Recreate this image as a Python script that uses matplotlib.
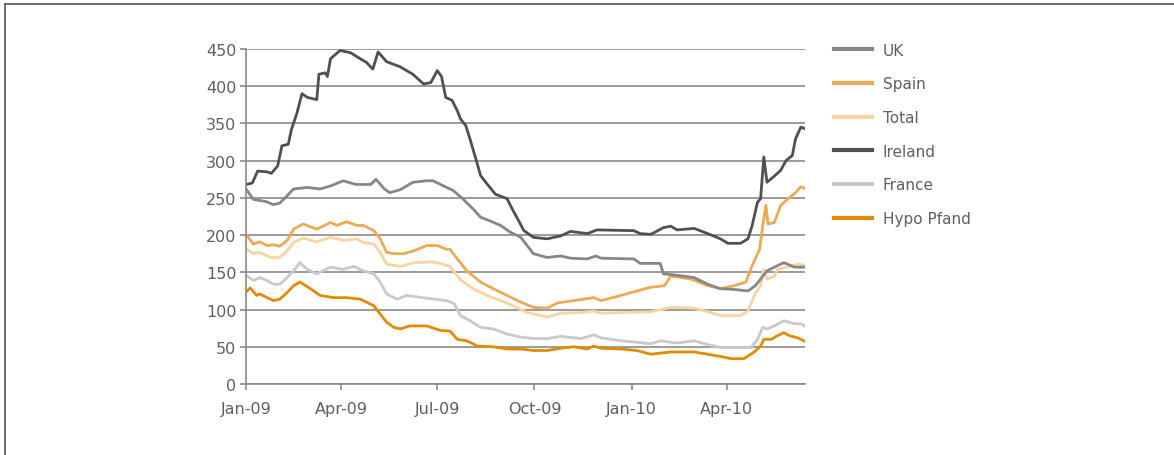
import pandas as pd
import matplotlib
matplotlib.use("Agg")
import matplotlib.pyplot as plt
import matplotlib.dates as mdates
from matplotlib.lines import Line2D

# values: (days since 1 Jan 2009, value)
uk_days = [0, 7, 19, 26, 32, 39, 45, 58, 70, 80, 92, 104, 118, 123, 131, 136, 146, 158, 171,
           177, 187, 196, 205, 215, 222, 231, 241, 250, 260, 266, 272, 285, 298, 307, 323, 331,
           336, 367, 373, 392, 395, 408, 424, 437, 449, 462, 475, 482, 488, 493, 503, 509, 519, 531]
uk_vals = [262, 248, 245, 241, 243, 253, 262, 264, 262, 266, 273, 268, 268, 275, 262, 257, 261, 271, 273,
           273, 266, 260, 249, 235, 224, 219, 213, 204, 197, 186, 175, 170, 172, 169, 168, 172,
           169, 168, 162, 162, 148, 146, 143, 134, 128, 127, 125, 132, 143, 152, 159, 163, 157, 157]

spain_days = [1, 7, 13, 20, 26, 32, 39, 45, 54, 67, 80, 86, 95, 105, 111, 121, 127, 133, 140, 149,
              159, 171, 181, 190, 193, 200, 209, 222, 234, 247, 260, 272, 285, 295, 310, 329, 336,
              355, 370, 383, 396, 402, 421, 437, 449, 462, 473, 479, 486, 489, 492, 494, 500, 506,
              513, 520, 525, 531]
spain_vals = [199, 188, 191, 186, 187, 185, 193, 208, 215, 208, 217, 213, 218, 213, 213, 206, 195, 177, 175, 175,
              179, 186, 186, 181, 181, 168, 152, 137, 128, 119, 110, 103, 102, 109, 112, 116, 112,
              119, 125, 130, 132, 145, 141, 132, 128, 132, 137, 159, 181, 213, 240, 215, 217, 240,
              249, 257, 265, 261]

total_days = [1, 7, 13, 23, 32, 39, 45, 54, 67, 80, 92, 105, 111, 121, 127, 133, 146, 159, 177, 184,
              193, 203, 215, 228, 241, 253, 266, 279, 285, 298, 317, 329, 336, 355, 383, 402, 424,
              437, 449, 468, 475, 481, 487, 490, 493, 500, 503, 512, 522, 531]
total_vals = [181, 175, 177, 170, 170, 179, 190, 196, 191, 197, 193, 195, 190, 188, 177, 161, 158, 163, 164, 162,
              158, 140, 128, 119, 112, 105, 96, 92, 90, 95, 96, 98, 95, 96, 97, 103, 102,
              97, 92, 92, 98, 119, 132, 154, 141, 145, 154, 157, 161, 159]

ireland_days = [0, 6, 11, 20, 24, 30, 34, 40, 43, 48, 53, 58, 67, 69, 75, 77, 80, 89, 99, 108, 114,
                120, 125, 133, 146, 158, 168, 175, 181, 185, 189, 195, 200, 203, 208, 212, 217, 222,
                228, 236, 247, 252, 257, 263, 272, 285, 298, 307, 323, 332, 367, 373, 383, 395, 402,
                408, 424, 437, 449, 456, 468, 475, 479, 484, 487, 490, 493, 499, 506, 511, 517, 520,
                525, 531]
ireland_vals = [268, 270, 286, 285, 283, 293, 320, 322, 342, 363, 390, 385, 382, 416, 418, 413, 437, 448, 445, 437, 432,
                423, 446, 433, 426, 416, 403, 405, 421, 413, 385, 381, 367, 356, 347, 329, 305, 280,
                269, 255, 249, 235, 222, 206, 197, 195, 199, 205, 202, 207, 206, 202, 201, 210, 212,
                207, 209, 202, 195, 189, 189, 195, 213, 244, 249, 305, 271, 278, 287, 300, 307, 329,
                345, 342]

france_days = [1, 7, 13, 20, 26, 32, 39, 45, 51, 58, 67, 80, 92, 102, 111, 121, 127, 133, 143, 152,
               162, 178, 190, 197, 203, 212, 222, 234, 247, 260, 272, 285, 298, 317, 329, 336, 355,
               370, 383, 392, 408, 424, 437, 449, 468, 478, 484, 489, 493, 500, 509, 519, 525, 531]
france_vals = [145, 139, 143, 139, 134, 134, 143, 152, 163, 154, 148, 157, 154, 158, 152, 148, 137, 121, 114, 119,
               117, 114, 112, 108, 92, 85, 76, 74, 67, 63, 61, 61, 64, 61, 66, 62, 58,
               56, 54, 58, 55, 58, 53, 49, 49, 49, 60, 76, 74, 78, 85, 81, 81, 76]

hypo_days = [1, 4, 10, 13, 20, 26, 32, 39, 45, 51, 61, 70, 83, 95, 108, 114, 121, 127, 133, 140,
             146, 155, 171, 184, 193, 200, 209, 219, 234, 247, 260, 272, 285, 298, 310, 323, 329,
             336, 355, 370, 383, 402, 424, 437, 449, 459, 471, 481, 487, 490, 497, 503, 509, 514,
             522, 531]
hypo_vals = [125, 129, 119, 121, 116, 112, 114, 123, 132, 137, 128, 119, 116, 116, 114, 110, 105, 94, 83, 76,
             74, 78, 78, 72, 71, 60, 58, 51, 50, 47, 47, 45, 45, 48, 50, 47, 51,
             48, 47, 45, 40, 43, 43, 40, 37, 34, 34, 43, 51, 60, 60, 65, 69, 65,
             62, 56]

series = [
    ("UK", uk_days, uk_vals, "#878787"),
    ("Spain", spain_days, spain_vals, "#EBAA55"),
    ("Total", total_days, total_vals, "#F7D4A2"),
    ("Ireland", ireland_days, ireland_vals, "#505050"),
    ("France", france_days, france_vals, "#C9C9C9"),
    ("Hypo Pfand", hypo_days, hypo_vals, "#E08B00"),
]

start = pd.Timestamp("2009-01-01")
text_col = "#5f5f5f"
grid_col = "#8a8a8a"

fig = plt.figure(figsize=(11.74, 4.56), dpi=100)
ax = fig.add_axes([246 / 1174, 1 - 385 / 456, (805 - 246) / 1174, (385 - 50) / 456])

# light ones first, dark ones end up on top
for name, d, v, c in series[::-1]:
    x = start + pd.to_timedelta(d, unit="D")
    ax.plot(x, v, color=c, lw=2.0, solid_joinstyle="round")

ax.set_ylim(0, 450)
ax.set_yticks(range(0, 451, 50))
ax.set_xlim(start, start + pd.Timedelta(days=529))
ax.xaxis.set_major_locator(mdates.MonthLocator(bymonth=[1, 4, 7, 10]))
ax.xaxis.set_major_formatter(mdates.DateFormatter("%b-%y"))

ax.grid(axis="y", color=grid_col, lw=1.2)
ax.set_axisbelow(True)
for s in ["top", "right"]:
    ax.spines[s].set_visible(False)
for s in ["left", "bottom"]:
    ax.spines[s].set_color(grid_col)
    ax.spines[s].set_linewidth(1.2)
ax.tick_params(axis="both", colors=grid_col, labelcolor=text_col, labelsize=11.5, length=4, width=1.2)
ax.tick_params(axis="x", pad=8)
ax.tick_params(axis="y", pad=3)

handles = [Line2D([], [], color=c, lw=3) for name, d, v, c in series]
fig.legend(handles, [s[0] for s in series], loc="upper left",
           bbox_to_anchor=(820 / 1174, 1 - 30 / 456), frameon=False,
           fontsize=11, labelcolor=text_col, handlelength=2.5, handletextpad=0.72,
           labelspacing=1.22, borderpad=0.4)

# frame around the picture (only top and left show)
fig.add_artist(Line2D([5 / 1174, 1], [1 - 5 / 456, 1 - 5 / 456], color="#555555", lw=1.2))
fig.add_artist(Line2D([5 / 1174, 5 / 1174], [0, 1 - 5 / 456], color="#555555", lw=1.2))

fig.savefig("out.png", dpi=100)
